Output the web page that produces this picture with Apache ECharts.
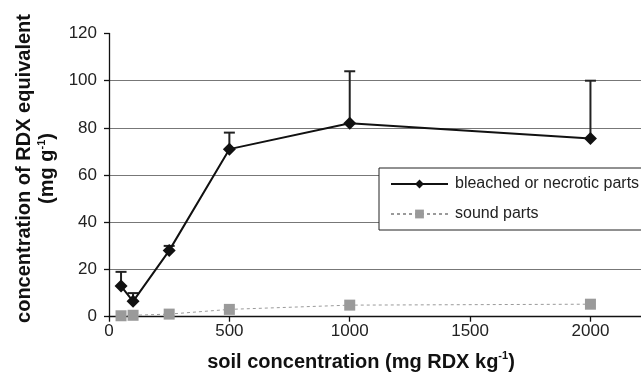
<!DOCTYPE html>
<html>
<head>
<meta charset="utf-8">
<script src="https://cdn.jsdelivr.net/npm/echarts@6/dist/echarts.min.js"></script>
<style>
  html, body { margin: 0; padding: 0; background: #fff; }
  #chart { width: 641px; height: 374px; }
</style>
</head>
<body>
<div id="chart"></div>
<script>
// Soil RDX dose (mg kg-1) and plant tissue concentrations (mg g-1)
const soilConc = [50, 100, 250, 500, 1000, 2000];
const bleached = [13, 6.5, 28, 71, 82, 75.5];
const bleachedErr = [6, 3.5, 2, 7, 22, 24.5];   // upper error bar length
const sound = [0.4, 0.6, 1.1, 3.1, 4.9, 5.3];
const xTicks = [0, 500, 1000, 1500, 2000];

const FONT = '"Liberation Sans", Arial, sans-serif';

const bleachedPts = soilConc.map((x, i) => [x, bleached[i]]);
const soundPts = soilConc.map((x, i) => [x, sound[i]]);
const errPts = soilConc.map((x, i) => [x, bleached[i], bleached[i] + bleachedErr[i]]);

const chart = echarts.init(document.getElementById('chart'));

const titleRich = {
  t: { fontSize: 20, fontWeight: 'bold', fontFamily: FONT, lineHeight: 23, fill: '#111' },
  s: { fontSize: 11, fontWeight: 'bold', fontFamily: FONT, lineHeight: 14, verticalAlign: 'top', fill: '#111' }
};

chart.setOption({
  animation: false,
  textStyle: { fontFamily: FONT },
  grid: { left: 109, right: 0, top: 33.5, bottom: 57.3 },
  xAxis: {
    type: 'value',
    min: 0,
    max: 2210,
    interval: 500,
    axisLine: { lineStyle: { color: '#111', width: 1.3 } },
    axisTick: { length: 5, customValues: xTicks, lineStyle: { color: '#111', width: 1.3 } },
    axisLabel: {
      customValues: xTicks, margin: 6, fontSize: 17, color: '#222', fontFamily: FONT,
      formatter: v => String(v)
    },
    splitLine: { show: false }
  },
  yAxis: {
    type: 'value',
    min: 0,
    max: 120,
    interval: 20,
    axisLine: { show: true, lineStyle: { color: '#111', width: 1.3 } },
    axisTick: { show: true, length: 5, lineStyle: { color: '#111', width: 1.3 } },
    axisLabel: { margin: 12, fontSize: 17, color: '#222', fontFamily: FONT },
    splitLine: { show: true, showMaxLine: false, lineStyle: { color: '#777', width: 1 } }
  },
  legend: {
    orient: 'vertical',
    left: 379,
    top: 168,
    padding: [8, 12, 8, 11],
    itemWidth: 57,
    itemHeight: 11,
    itemGap: 14,
    backgroundColor: '#fff',
    borderColor: '#222',
    borderWidth: 1,
    textStyle: { fontSize: 16, color: '#222', fontFamily: FONT, padding: [0, 0, 0, 2] },
    data: ['bleached or necrotic parts', 'sound parts']
  },
  series: [
    {
      name: 'sound parts',
      type: 'line',
      data: soundPts,
      symbol: 'rect',
      symbolSize: 11,
      z: 2,
      itemStyle: { color: '#9a9a9a' },
      lineStyle: { color: '#9a9a9a', width: 1, type: [3, 3] }
    },
    {
      name: 'bleached or necrotic parts',
      type: 'line',
      data: bleachedPts,
      symbol: 'diamond',
      symbolSize: 13,
      z: 4,
      itemStyle: { color: '#111' },
      lineStyle: { color: '#111', width: 2 }
    },
    {
      name: 'error',
      type: 'custom',
      data: errPts,
      z: 3,
      encode: { x: 0, y: [1, 2] },
      renderItem: function (params, api) {
        const x = api.value(0);
        const p0 = api.coord([x, api.value(1)]);
        const p1 = api.coord([x, api.value(2)]);
        const half = 5.5;
        const style = { stroke: '#222', lineWidth: 2 };
        return {
          type: 'group',
          children: [
            { type: 'line', shape: { x1: p0[0], y1: p0[1], x2: p1[0], y2: p1[1] }, style: style },
            { type: 'line', shape: { x1: p1[0] - half, y1: p1[1], x2: p1[0] + half, y2: p1[1] }, style: style }
          ]
        };
      }
    }
  ],
  graphic: [
    {
      type: 'text',
      x: 36,
      y: 168.5,
      rotation: Math.PI / 2,
      style: {
        text: '{t|concentration of RDX equivalent}\n{t|(mg g}{s|-1}{t|)}',
        align: 'center',
        verticalAlign: 'middle',
        fill: '#111',
        rich: titleRich
      }
    },
    {
      type: 'text',
      x: 361,
      y: 362,
      style: {
        text: '{t|soil concentration (mg RDX kg}{s|-1}{t|)}',
        align: 'center',
        verticalAlign: 'middle',
        fill: '#111',
        rich: titleRich
      }
    }
  ]
});
</script>
</body>
</html>
